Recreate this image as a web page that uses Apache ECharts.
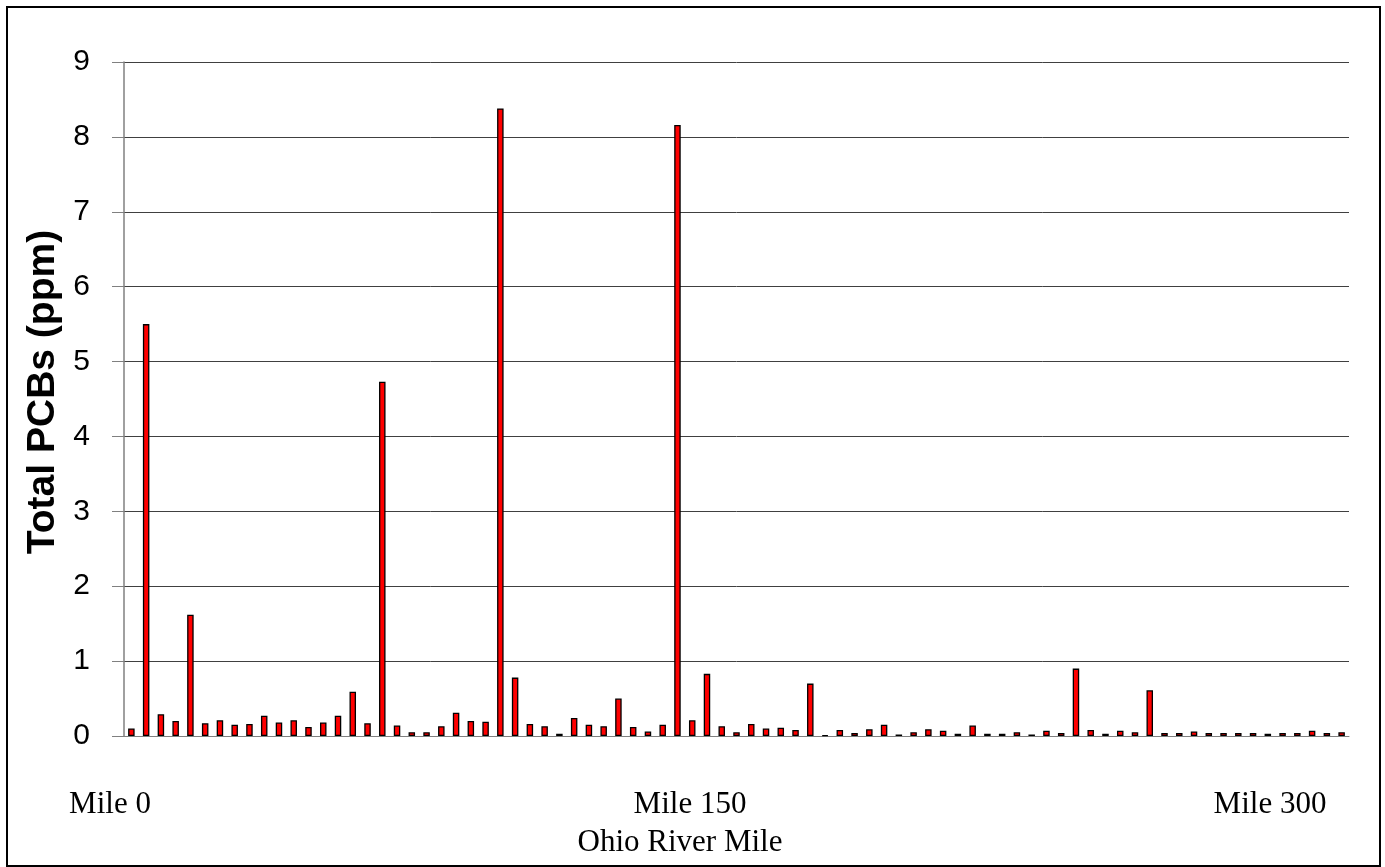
<!DOCTYPE html>
<html>
<head>
<meta charset="utf-8">
<title>Total PCBs along the Ohio River</title>
<script src="https://cdn.jsdelivr.net/npm/echarts@6/dist/echarts.min.js"></script>
<style>
  html, body { margin: 0; padding: 0; background: #ffffff; }
  #chart { width: 1385px; height: 867px; }
</style>
</head>
<body>
<div id="chart"></div>
<script>
// Sampling stations, upstream to downstream
const stations = [];
for (let i = 1; i <= 83; i++) stations.push('Station ' + i);

// Total PCB concentration at each station (ppm)
const totalPCBs = [
  0.10, 5.50, 0.29, 0.20, 1.62, 0.17, 0.21, 0.15, 0.16, 0.27,
  0.18, 0.21, 0.12, 0.18, 0.27, 0.59, 0.17, 4.73, 0.14, 0.05,
  0.05, 0.13, 0.31, 0.20, 0.19, 8.38, 0.78, 0.16, 0.13, 0.03,
  0.24, 0.15, 0.13, 0.50, 0.12, 0.06, 0.15, 8.16, 0.21, 0.83,
  0.13, 0.05, 0.16, 0.10, 0.11, 0.08, 0.70, 0.01, 0.08, 0.04,
  0.09, 0.15, 0.02, 0.05, 0.09, 0.07, 0.03, 0.14, 0.03, 0.03,
  0.05, 0.02, 0.07, 0.04, 0.90, 0.08, 0.03, 0.07, 0.05, 0.61,
  0.04, 0.04, 0.06, 0.04, 0.04, 0.04, 0.04, 0.03, 0.04, 0.04,
  0.07, 0.04, 0.05
];

// River-mile reference marks shown below the bars
const mileTicks = [0, 150, 300];

// Concentration axis range
const yMin = 0, yMax = 9, yStep = 1;

const chart = echarts.init(document.getElementById('chart'), null, { renderer: 'canvas' });

chart.setOption({
  backgroundColor: '#ffffff',
  animation: false,
  graphic: [{
    type: 'rect',
    shape: { x: 7, y: 7, width: 1373, height: 859 },
    style: { fill: 'none', stroke: '#000000', lineWidth: 2 },
    silent: true,
    z: 100
  }],
  grid: [
    { left: 124, right: 36, top: 62, bottom: 131 },
    { left: 110, width: 1160, top: 62, bottom: 131 }
  ],
  xAxis: [
    {
      type: 'category',
      gridIndex: 0,
      data: stations,
      axisLine: { show: true, lineStyle: { color: '#808080', width: 1 } },
      axisTick: { show: false },
      axisLabel: { show: false },
      splitLine: { show: false }
    },
    {
      type: 'value',
      gridIndex: 1,
      min: mileTicks[0],
      max: mileTicks[mileTicks.length - 1],
      interval: mileTicks[1] - mileTicks[0],
      axisLine: { show: false },
      axisTick: { show: false },
      splitLine: { show: false },
      axisLabel: {
        show: true,
        showMinLabel: true,
        showMaxLabel: true,
        margin: 53,
        formatter: v => 'Mile ' + v,
        fontFamily: '"Liberation Serif", "Times New Roman", serif',
        fontSize: 31,
        lineHeight: 31,
        color: '#000000'
      },
      name: 'Ohio River Mile',
      nameLocation: 'middle',
      nameGap: 91,
      nameTextStyle: {
        fontFamily: '"Liberation Serif", "Times New Roman", serif',
        fontSize: 31,
        lineHeight: 31,
        color: '#000000',
        padding: [0, 20, 0, 0]
      }
    }
  ],
  yAxis: [
    {
      type: 'value',
      gridIndex: 0,
      min: yMin,
      max: yMax,
      interval: yStep,
      axisLine: { show: true, lineStyle: { color: '#808080', width: 1.5 } },
      axisTick: { show: true, inside: false, length: 12, lineStyle: { color: '#808080', width: 1 } },
      axisLabel: {
        margin: 34,
        fontFamily: '"Liberation Sans", Arial, sans-serif',
        fontSize: 30,
        color: '#000000'
      },
      splitLine: { show: true, lineStyle: { color: '#404040', width: 1 } },
      name: 'Total PCBs (ppm)',
      nameLocation: 'middle',
      nameGap: 58,
      nameTextStyle: {
        fontFamily: '"Liberation Sans", Arial, sans-serif',
        fontSize: 39,
        lineHeight: 39,
        fontWeight: 'bold',
        color: '#000000',
        padding: [0, 0, 0, 14]
      }
    },
    {
      type: 'value',
      gridIndex: 1,
      min: 0,
      max: 1,
      show: false
    }
  ],
  series: [{
    type: 'bar',
    xAxisIndex: 0,
    yAxisIndex: 0,
    data: totalPCBs,
    barWidth: 6.5,
    itemStyle: { color: '#ff0000', borderColor: '#000000', borderWidth: 1.3 }
  }]
});
</script>
</body>
</html>
